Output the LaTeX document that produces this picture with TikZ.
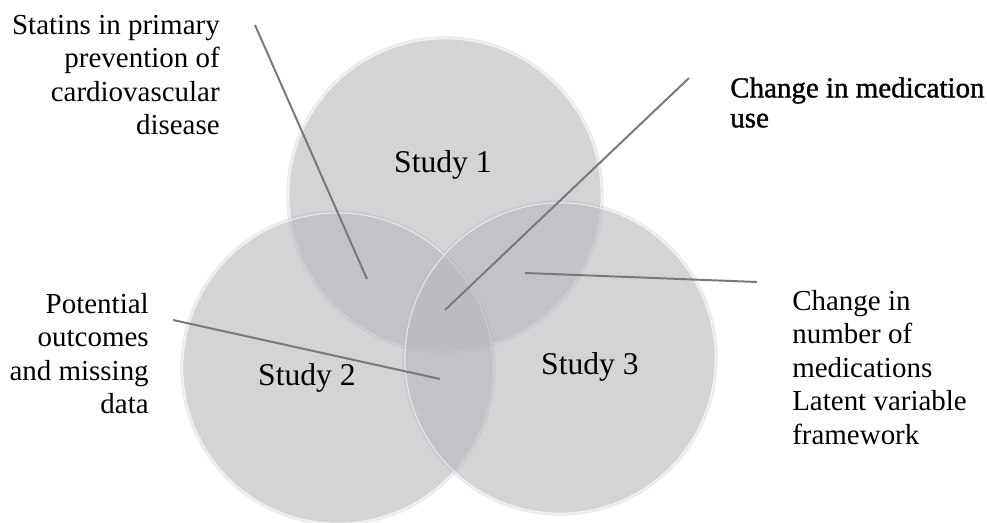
\documentclass[tikz,border=0pt]{standalone}
\usepackage{fontspec}
\setmainfont{Liberation Serif}
\newfontfamily\outlinefont[FakeBold=1.2]{Liberation Serif}
\usepackage{tikz}

\definecolor{venngray}{RGB}{182,183,187}
\definecolor{linegray}{RGB}{120,120,123}

\begin{document}
\begin{tikzpicture}[x=0.025cm, y=-0.025cm,
  halo/.style={draw=black, draw opacity=0.08, line width=2.5pt},
  study/.style={fill=venngray, fill opacity=0.6, draw=white, draw opacity=0.6, line width=0.8pt},
  studylabel/.style={font=\fontsize{22.5}{26}\selectfont, inner sep=0pt},
  topic/.style={font=\fontsize{20.6}{23.8}\selectfont, inner sep=0pt},
  pointer/.style={draw=linegray, line width=1.4pt}]
\useasboundingbox (0,0) rectangle (988,523);

\draw[halo] (445,195) circle (157);
\draw[halo] (338,368) circle (156);
\draw[halo] (560,358) circle (156);
\draw[study] (445,195) circle (156);
\draw[study] (338,368) circle (155);
\draw[study] (560,358) circle (155);

\node[studylabel, anchor=base] (study1) at (443,173) {Study 1};
\node[studylabel, anchor=base] (study2) at (307,386) {Study 2};
\node[studylabel, anchor=base] (study3) at (590,375) {Study 3};

\node[topic, anchor=north east, align=right] (statins) at (220,15)
  {Statins in primary\\prevention of\\cardiovascular\\disease};
\node[topic, anchor=north east, align=right] (outcomes) at (149,293)
  {Potential\\outcomes\\and missing\\data};
\node[topic, anchor=north west, align=left, font=\fontsize{20.6}{21.3}\selectfont\outlinefont] (medication) at (730,77)
  {Change in medication\\use};
\node[topic, anchor=north west, align=left] (number) at (792,290)
  {Change in\\number of\\medications\\Latent variable\\framework};

\coordinate (statins-in) at (367,279);
\coordinate (statins-out) at (255,25);
\coordinate (medication-in) at (445,310);
\coordinate (medication-out) at (689,78);
\coordinate (outcomes-in) at (440,379);
\coordinate (outcomes-out) at (173,320);
\coordinate (number-in) at (525,273);
\coordinate (number-out) at (757,282);

\draw[pointer] (statins-out) -- (statins-in);
\draw[pointer] (medication-out) -- (medication-in);
\draw[pointer] (outcomes-out) -- (outcomes-in);
\draw[pointer] (number-in) -- (number-out);
\end{tikzpicture}
\end{document}
